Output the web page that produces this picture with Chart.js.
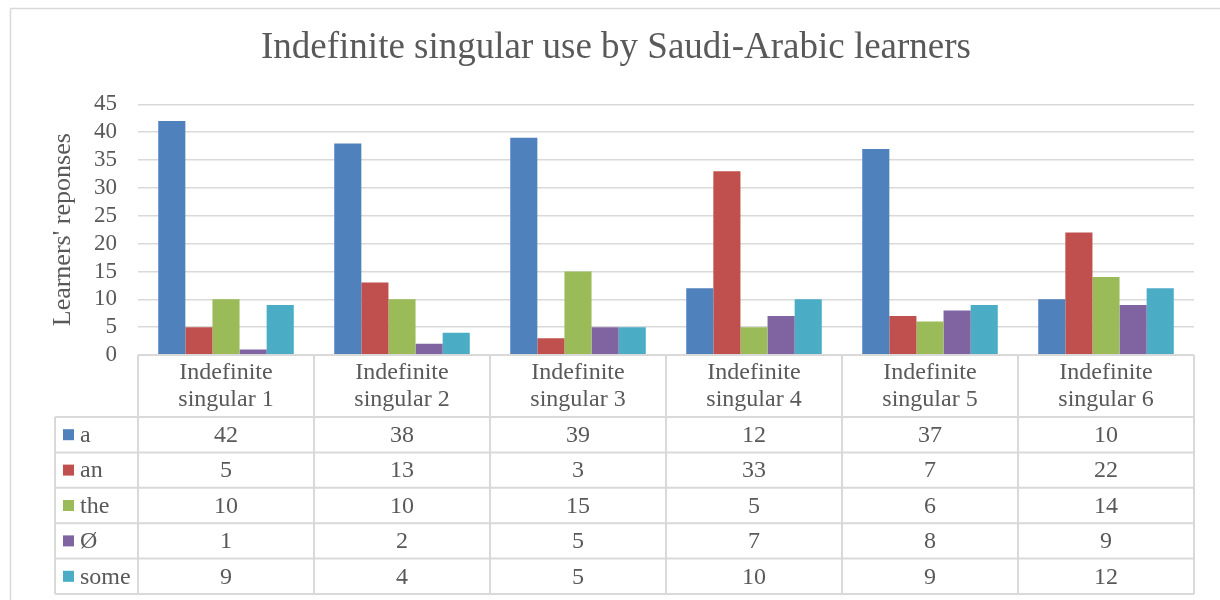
<!DOCTYPE html>
<html>
<head>
<meta charset="utf-8">
<script src="https://cdn.jsdelivr.net/npm/chart.js@4/dist/chart.umd.min.js"></script>
<style>
    html, body { margin: 0; padding: 0; background: #fff; }
    #wrap { width: 1220px; height: 600px; }
</style>
</head>
<body>
<div id="wrap"><canvas id="chart" width="1220" height="600"></canvas></div>
<script>
'use strict';

const CATEGORIES = [
    ['Indefinite', 'singular 1'],
    ['Indefinite', 'singular 2'],
    ['Indefinite', 'singular 3'],
    ['Indefinite', 'singular 4'],
    ['Indefinite', 'singular 5'],
    ['Indefinite', 'singular 6']
];
const SERIES_NAMES = ['a', 'an', 'the', 'Ø', 'some'];
const A_VALUES = [42, 38, 39, 12, 37, 10];
const AN_VALUES = [5, 13, 3, 33, 7, 22];
const THE_VALUES = [10, 10, 15, 5, 6, 14];
const ZERO_VALUES = [1, 2, 5, 7, 8, 9];
const SOME_VALUES = [9, 4, 5, 10, 9, 12];
const Y_MIN = 0;
const Y_MAX = 45;
const Y_STEP = 5;

const COLORS = ['#4F81BD', '#C0504D', '#9BBB59', '#8064A2', '#4BACC6'];
const TEXT_COLOR = '#595959';
const LINE_COLOR = '#d9d9d9';
const FONT = '"Liberation Serif", "Times New Roman", serif';

const seriesValues = [A_VALUES, AN_VALUES, THE_VALUES, ZERO_VALUES, SOME_VALUES];

// data table under the plot, like excel's "data table with legend keys"
const dataTablePlugin = {
    id: 'dataTable',
    beforeDraw(chart) {
        const ctx = chart.ctx;
        ctx.save();
        ctx.strokeStyle = LINE_COLOR;
        ctx.lineWidth = 1.5;
        ctx.beginPath();
        ctx.moveTo(10.5, 600);
        ctx.lineTo(10.5, 8.5);
        ctx.lineTo(1220, 8.5);
        ctx.stroke();
        ctx.restore();
    },
    afterDraw(chart) {
        const { ctx, chartArea: area } = chart;
        const labels = chart.data.labels;
        const datasets = chart.data.datasets;
        const n = labels.length;
        const colW = (area.right - area.left) / n;
        const headTop = area.bottom;
        const headBottom = headTop + 62;
        const rowH = 35.4;
        const legLeft = 55;
        const tableBottom = headBottom + rowH * datasets.length;

        ctx.save();
        ctx.strokeStyle = LINE_COLOR;
        ctx.lineWidth = 2;
        ctx.beginPath();
        // header top (axis line)
        ctx.moveTo(area.left, headTop);
        ctx.lineTo(area.right, headTop);
        // row lines
        for (let r = 0; r <= datasets.length; r++) {
            const y = headBottom + r * rowH;
            ctx.moveTo(legLeft, y);
            ctx.lineTo(area.right, y);
        }
        // column lines
        for (let c = 0; c <= n; c++) {
            const x = area.left + c * colW;
            ctx.moveTo(x, headTop);
            ctx.lineTo(x, tableBottom);
        }
        ctx.moveTo(legLeft, headBottom);
        ctx.lineTo(legLeft, tableBottom);
        ctx.stroke();

        ctx.fillStyle = TEXT_COLOR;
        ctx.font = '24px ' + FONT;
        ctx.textBaseline = 'middle';
        ctx.textAlign = 'center';

        // header labels
        for (let c = 0; c < n; c++) {
            const cx = area.left + (c + 0.5) * colW;
            const lines = labels[c];
            ctx.fillText(lines[0], cx, headTop + 18);
            ctx.fillText(lines[1], cx, headTop + 45);
        }

        // rows
        for (let r = 0; r < datasets.length; r++) {
            const cy = headBottom + (r + 0.5) * rowH;
            ctx.fillStyle = datasets[r].backgroundColor;
            ctx.fillRect(63, cy - 5.5, 11, 11);
            ctx.fillStyle = TEXT_COLOR;
            ctx.textAlign = 'left';
            ctx.fillText(datasets[r].label, 80, cy + 1);
            ctx.textAlign = 'center';
            for (let c = 0; c < n; c++) {
                const cx = area.left + (c + 0.5) * colW;
                ctx.fillText(String(datasets[r].data[c]), cx, cy + 1);
            }
        }
        ctx.restore();
    }
};

const datasets = [];
for (let i = 0; i < SERIES_NAMES.length; i++) {
    datasets.push({
        label: SERIES_NAMES[i],
        data: seriesValues[i],
        backgroundColor: COLORS[i],
        borderWidth: 0,
        categoryPercentage: 0.77,
        barPercentage: 1.0
    });
}

new Chart(document.getElementById('chart'), {
    type: 'bar',
    data: {
        labels: CATEGORIES,
        datasets: datasets
    },
    options: {
        responsive: false,
        animation: false,
        layout: {
            padding: { left: 38, right: 26, top: 0, bottom: 245 }
        },
        plugins: {
            legend: { display: false },
            tooltip: { enabled: false },
            title: {
                display: true,
                text: 'Indefinite singular use by Saudi-Arabic learners',
                color: TEXT_COLOR,
                font: { family: FONT, size: 37, weight: 'normal', lineHeight: 1.2 },
                padding: { top: 26, bottom: 34 }
            }
        },
        scales: {
            x: {
                display: false
            },
            y: {
                min: Y_MIN,
                max: Y_MAX,
                afterFit(scale) {
                    scale.width = 100;
                },
                border: { display: false },
                grid: {
                    color: ctx => ctx.tick.value === 0 ? 'rgba(0,0,0,0)' : LINE_COLOR,
                    lineWidth: 1.5,
                    drawTicks: false
                },
                ticks: {
                    stepSize: Y_STEP,
                    autoSkip: false,
                    color: TEXT_COLOR,
                    font: { family: FONT, size: 23 },
                    padding: 21
                },
                title: {
                    display: true,
                    text: "Learners' reponses",
                    color: TEXT_COLOR,
                    font: { family: FONT, size: 26, weight: 'normal' },
                    padding: { top: 10, bottom: 0 }
                }
            }
        }
    },
    plugins: [dataTablePlugin]
});
</script>
</body>
</html>
